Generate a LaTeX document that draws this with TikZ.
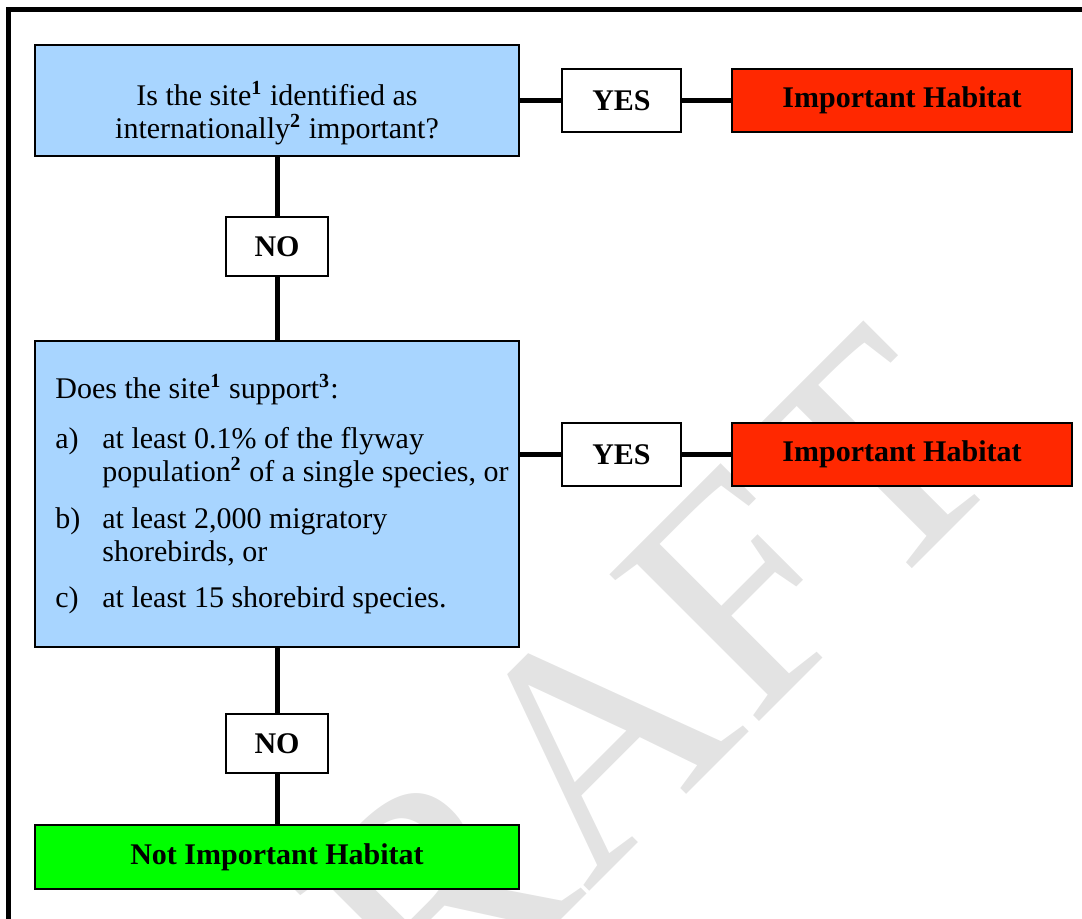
\documentclass[tikz,border=0pt]{standalone}
\usepackage{fontspec}
\setmainfont{Liberation Serif}
\usepackage{array}
\newcommand\fnote[1]{\smash{\textsuperscript{\textbf{#1}}}}
\definecolor{qblue}{RGB}{168,213,255}
\definecolor{hred}{RGB}{255,40,0}
\definecolor{hgreen}{RGB}{0,255,0}
\definecolor{wmgray}{RGB}{227,227,227}

\begin{document}
\begin{tikzpicture}[x=0.4pt, y=-0.4pt,
    question/.style={draw, line width=0.6pt, fill=qblue, minimum width=193.6pt, inner sep=0pt},
    answer/.style={draw, line width=0.6pt, fill=white, font=\bfseries, minimum height=25.2pt, inner sep=0pt},
    result/.style={draw, line width=0.6pt, font=\bfseries, minimum height=25.2pt, inner sep=0pt},
    link/.style={line width=2pt}]
    \fontsize{12}{13.3}\selectfont
    \useasboundingbox (0,0) rectangle (1082,919);

    % watermark
    \node[text=wmgray, rotate=45, font=\fontsize{128}{128}\selectfont] (wm) at (570,762) {DRAFT};

    % page frame
    \draw[line width=2pt] (1090,9.5) -- (8.5,9.5) -- (8.5,930);

    % first question
    \node[question, minimum height=44.4pt, align=center] (q1) at (277,100.5)
        {\rule{0pt}{19.5pt}Is the site\fnote{1} identified as\\ internationally\fnote{2} important?};
    \node[answer, minimum width=47.6pt] (yes1) at (621.5,100.5) {YES};
    \node[result, fill=hred, minimum width=136pt] (imp1) at (902,100.5) {Important Habitat};
    \node[answer, minimum width=40.8pt, minimum height=23.6pt] (no1) at (277,246.5) {NO};

    % second question
    \node[question, minimum height=122.4pt] (q2) at (277,494) {%
        \begin{tabular}{@{\hspace{4pt}}p{18.8pt}@{}l@{}}
            \multicolumn{2}{@{\hspace{4pt}}l@{}}{\rule{0pt}{11.3pt}Does the site\fnote{1} support\fnote{3}:}\\[6.7pt]
            a) & at least 0.1\% of the flyway\\
               & population\fnote{2} of a single species, or\\[5.3pt]
            b) & at least 2,000 migratory\\
               & shorebirds, or\\[5.3pt]
            c) & at least 15 shorebird species.
        \end{tabular}};
    \node[answer, minimum width=47.6pt] (yes2) at (621.5,454.5) {YES};
    \node[result, fill=hred, minimum width=136pt] (imp2) at (902,454.5) {Important Habitat};
    \node[answer, minimum width=40.8pt, minimum height=23.6pt] (no2) at (277,743.5) {NO};

    % final answer
    \node[result, fill=hgreen, minimum width=193.6pt, minimum height=25.6pt] (notimp) at (277,857) {Not Important Habitat};

    % yes branches
    \draw[link] (q1.east) -- (yes1.west);
    \draw[link] (yes1.east) -- (imp1.west);
    \draw[link] (q2.east |- yes2.west) -- (yes2.west);
    \draw[link] (yes2.east) -- (imp2.west);

    % no branches
    \draw[link] (q1.south) -- (no1.north);
    \draw[link] (no1.south) -- (q2.north);
    \draw[link] (q2.south) -- (no2.north);
    \draw[link] (no2.south) -- (notimp.north);
\end{tikzpicture}
\end{document}
